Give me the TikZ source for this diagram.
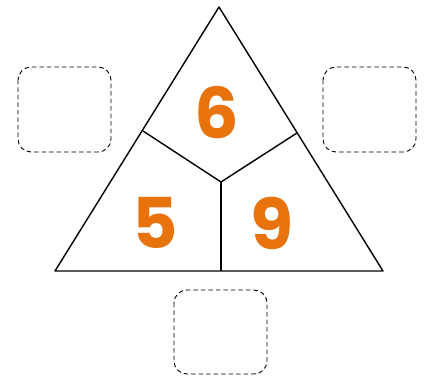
\documentclass[tikz,border=0pt]{standalone}
\usepackage{fontspec}
\newfontfamily\digitfont{Poppins}
\definecolor{numorange}{HTML}{E8720C}
\begin{document}
\begin{tikzpicture}[x=1pt,y=-1pt,
  edge/.style={line width=1.4pt,line join=round},
  blank/.style={draw,line width=0.9pt,dash pattern=on 4.5pt off 3pt,rounded corners=13pt},
  digit/.style={text=numorange,font=\digitfont\bfseries\fontsize{70}{70}\selectfont,inner sep=0pt}]
\useasboundingbox (0,0) rectangle (431,379);
\coordinate (top) at (219,7);
\coordinate (bl) at (55,271);
\coordinate (br) at (383,271);
\coordinate (c) at (221,182);
\coordinate (ml) at (143,131);
\coordinate (mr) at (297,133);
\coordinate (mb) at (221,271);
\draw[edge] (top) -- (bl) -- (br) -- cycle;
\draw[edge] (ml) -- (c) -- (mr);
\draw[edge] (c) -- (mb);
\draw[blank] (18,67) rectangle (111,152);
\draw[blank] (323,67) rectangle (416,152);
\draw[blank] (174,290) rectangle (267,374);
\node[digit] (n6) at (217,113) {6};
\node[digit] (n5) at (155,223) {5};
\node[digit] (n9) at (272,223) {9};
\end{tikzpicture}
\end{document}
